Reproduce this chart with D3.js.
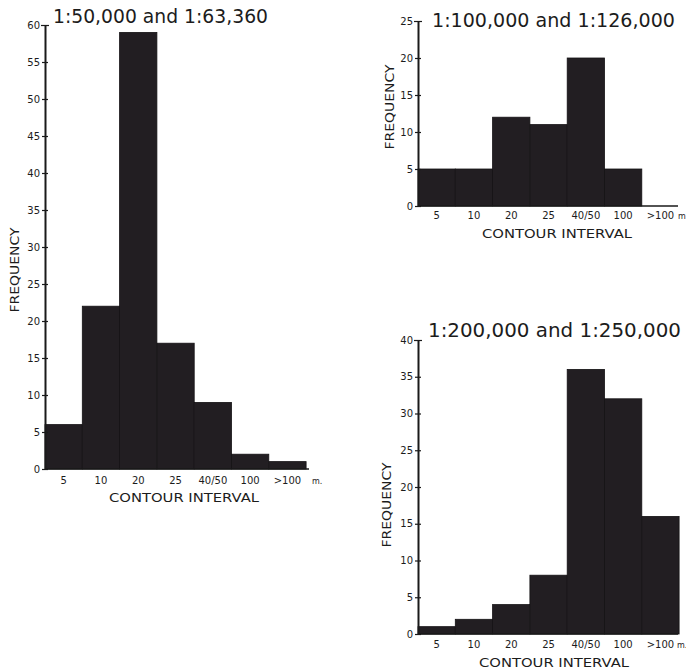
<!DOCTYPE html>
<html>
<head>
<meta charset="utf-8">
<script src="https://cdn.jsdelivr.net/npm/d3@7"></script>
<style>
  body { margin: 0; background: #fff; }
  text { font-family: "DejaVu Sans", sans-serif; fill: #1c1c1c; }
</style>
</head>
<body>
<svg id="chart" width="686" height="669"></svg>
<script>
// categories shared by all three histograms
var intervals = ["5", "10", "20", "25", "40/50", "100", ">100"];

// frequencies
var freq50k  = [6, 22, 59, 17, 9, 2, 1];
var freq100k = [5, 5, 12, 11, 20, 5, 0];
var freq200k = [1, 2, 4, 8, 36, 32, 16];

var titles = ["1:50,000 and 1:63,360", "1:100,000 and 1:126,000", "1:200,000 and 1:250,000"];
var yMaxes = [60, 25, 40];

var svg = d3.select("#chart");
var barW = 37.3;

// layout of each panel
var panels = [
  { data: freq50k,  title: titles[0], yMax: yMaxes[0], ax: 45,  y0: 469, yTop: 25,
    titleX: 53, titleY: 23, titleW: 215, axEnd: 309, unitX: 312, unit: "m.",
    labOff: 15, ciX: 184, ciY: 502, frX: 19, frY: 270 },
  { data: freq100k, title: titles[1], yMax: yMaxes[1], ax: 418, y0: 206, yTop: 21,
    titleX: 432, titleY: 27, titleW: 243, axEnd: 678, unitX: 678, unit: "m",
    labOff: 13, ciX: 557, ciY: 238, frX: 394, frY: 107 },
  { data: freq200k, title: titles[2], yMax: yMaxes[2], ax: 418, y0: 634, yTop: 340,
    titleX: 428, titleY: 337, titleW: 253, axEnd: 678, unitX: 677, unit: "m.",
    labOff: 14, ciX: 554, ciY: 667, frX: 391, frY: 505 }
];

panels.forEach(function(p) {
  var g = svg.append("g");

  var x = d3.scaleBand()
    .domain(intervals)
    .range([p.ax, p.ax + barW * intervals.length])
    .padding(0);

  var y = d3.scaleLinear()
    .domain([0, p.yMax])
    .range([p.y0, p.yTop]);

  // bars
  g.selectAll("rect.bar")
    .data(p.data)
    .enter().append("rect")
      .attr("class", "bar")
      .attr("x", function(d, i) { return x(intervals[i]); })
      .attr("width", x.bandwidth())
      .attr("y", function(d) { return y(d); })
      .attr("height", function(d) { return p.y0 - y(d); })
      .attr("fill", "#221e22")
      .attr("stroke", "#141214")
      .attr("stroke-width", 0.8);

  // x baseline
  g.append("line")
    .attr("x1", p.ax).attr("x2", p.axEnd)
    .attr("y1", p.y0).attr("y2", p.y0)
    .attr("stroke", "#1a1a1a").attr("stroke-width", 1.6);

  // y axis: crossing ticks every 5
  var yAxis = d3.axisLeft(y)
    .tickValues(d3.range(0, p.yMax + 1, 5))
    .tickSize(4)
    .tickPadding(3)
    .tickSizeOuter(0);

  var ya = g.append("g")
    .attr("transform", "translate(" + p.ax + ",0)")
    .call(yAxis);
  ya.select(".domain").attr("stroke", "#1a1a1a").attr("stroke-width", 2);
  ya.selectAll(".tick line").attr("x1", 3).attr("x2", -3).attr("stroke", "#1a1a1a").attr("stroke-width", 1.2);
  ya.selectAll(".tick text")
    .attr("x", -5)
    .style("font-family", "DejaVu Sans, sans-serif")
    .style("font-size", "10px")
    .attr("fill", "#2a2a2a");
  ya.selectAll(".tick").filter(function(d) { return d === p.yMax; })
    .select("line").attr("x1", 4).attr("x2", -4);

  // category labels
  g.selectAll("text.cat")
    .data(intervals)
    .enter().append("text")
      .attr("class", "cat")
      .attr("x", function(d) { return x(d) + x.bandwidth() / 2; })
      .attr("y", p.y0 + p.labOff)
      .attr("text-anchor", "middle")
      .style("font-size", "10px")
      .text(function(d) { return d; });

  g.append("text")
    .attr("x", p.unitX)
    .attr("y", p.y0 + p.labOff)
    .style("font-size", "8px")
    .text(p.unit);

  // titles
  g.append("text")
    .attr("x", p.titleX)
    .attr("y", p.titleY)
    .attr("textLength", p.titleW)
    .attr("lengthAdjust", "spacingAndGlyphs")
    .style("font-size", "20px")
    .text(p.title);

  g.append("text")
    .attr("x", p.ciX)
    .attr("y", p.ciY)
    .attr("text-anchor", "middle")
    .attr("textLength", 150)
    .attr("lengthAdjust", "spacingAndGlyphs")
    .style("font-size", "13px")
    .text("CONTOUR  INTERVAL");

  g.append("text")
    .attr("transform", "translate(" + p.frX + "," + p.frY + ") rotate(-90)")
    .attr("text-anchor", "middle")
    .attr("textLength", 85)
    .attr("lengthAdjust", "spacingAndGlyphs")
    .style("font-size", "13px")
    .text("FREQUENCY");
});
</script>
</body>
</html>
